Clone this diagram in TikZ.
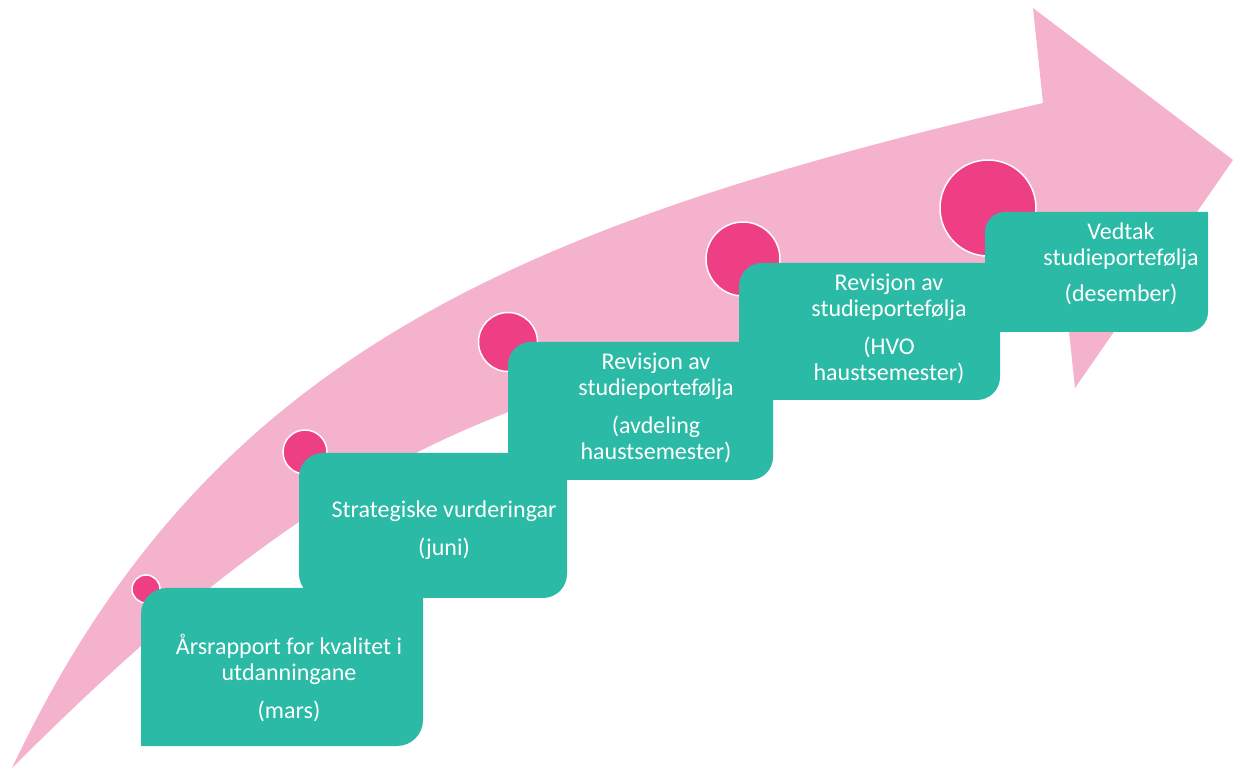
\documentclass[tikz,border=0pt]{standalone}
\usepackage{fontspec}
\setmainfont{Carlito}
\definecolor{pilrosa}{HTML}{F5B2CD}
\definecolor{prikkrosa}{HTML}{EE3F84}
\definecolor{steggronn}{HTML}{2ABAA5}
\tikzset{
	prikk/.style={circle,fill=prikkrosa,draw=white,line width=1.5pt,inner sep=0pt},
	steg/.style={fill=steggronn},
	stegtekst/.style={text=white,align=center,inner sep=0pt,font=\fontsize{24}{26}\selectfont}
}
% Boks med runde hjorne oppe til venstre og nede til hogre
\newcommand{\stegboks}[5]{%
	\fill[steg] (#1,#2) -- (#1,#4-#5) arc [start angle=180,end angle=90,radius=#5] -- (#3,#4) -- (#3,#2+#5) arc [start angle=0,end angle=-90,radius=#5] -- cycle;}
\begin{document}
\begin{tikzpicture}[x=1pt,y=1pt]
		\useasboundingbox (0,0) rectangle (1235,769);
		%Pil
		\fill [pilrosa] (12,1) .. controls (205,409) and (507,542) .. (1043,666) -- (1033,761) -- (1233,609) -- (1075,381) -- (1068,447) .. controls (560,429) and (350,339) .. (12,1) -- cycle;
		%Prikkar
		\node [prikk,minimum size=28] (p1) at (146,180) {};
		\node [prikk,minimum size=44] (p2) at (305,317) {};
		\node [prikk,minimum size=59] (p3) at (508,427) {};
		\node [prikk,minimum size=74] (p4) at (743,510) {};
		\node [prikk,minimum size=96] (p5) at (988,561) {};
		%Steg
		\stegboks{141}{23}{423}{181}{26}
		\fill [steg,rounded corners=24] (299,171) rectangle (567,316);
		\stegboks{508}{289}{773}{427}{23}
		\stegboks{739}{369}{1000}{506}{23}
		\stegboks{985}{437}{1208}{557}{20}
		%Tekst
		\node [stegtekst] (t1) at (289,91) {Årsrapport for kvalitet i\\utdanningane\\[12pt](mars)};
		\node [stegtekst] (t2) at (444,238.5) {Strategiske vurderingar\\[12pt](juni)};
		\node [stegtekst] (t3) at (656,361) {Revisjon av\\studieportefølja\\[12pt](avdeling\\haustsemester)};
		\node [stegtekst] (t4) at (889,440.5) {Revisjon av\\studieportefølja\\[12pt](HVO\\haustsemester)};
		\node [stegtekst] (t5) at (1121,505) {Vedtak\\studieportefølja\\[10pt](desember)};
\end{tikzpicture}
\end{document}
